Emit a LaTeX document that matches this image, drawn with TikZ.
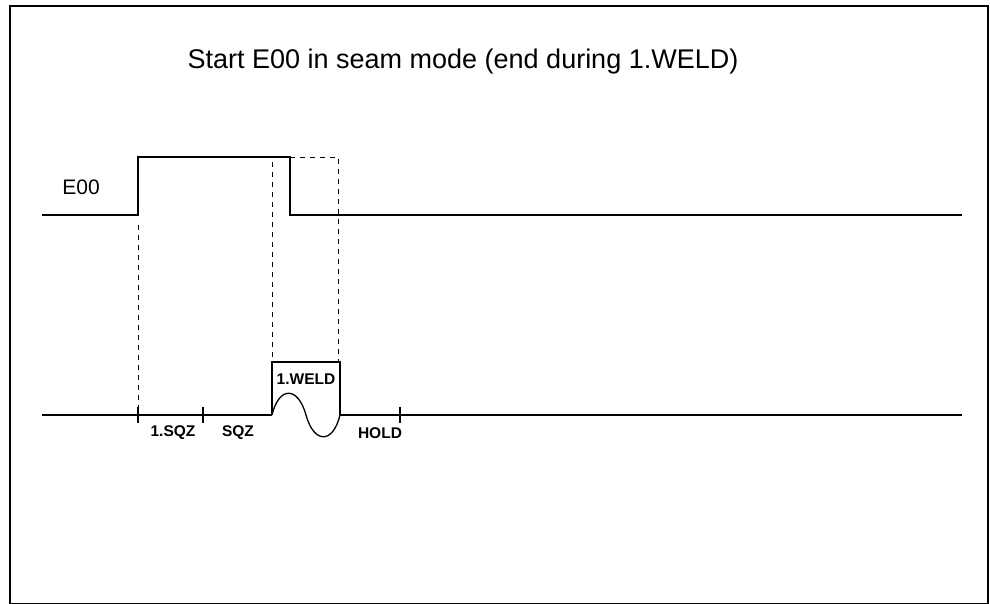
\documentclass[tikz,border=0pt]{standalone}
\usepackage{fontspec}
\setmainfont{Liberation Sans}
\begin{document}
\begin{tikzpicture}[x=1pt,y=-1pt,
  sig/.style={line width=1.3pt},
  guide/.style={line width=0.7pt,dash pattern=on 5pt off 5pt},
  lbl/.style={font=\bfseries\fontsize{15.5}{17}\selectfont,inner sep=0pt},
  frame/.style={line width=1.4pt}]
\useasboundingbox (0,0) rectangle (990,603);
\draw[frame] (10,6) rectangle (988,603.2);
\node[inner sep=0pt,font=\fontsize{27}{31}\selectfont] (title) at (463,62) {Start E00 in seam mode (end during 1.WELD)};
\node[inner sep=0pt,font=\fontsize{21}{24}\selectfont] (e00) at (81,187) {E00};
% E00 signal
\coordinate (s0) at (42,215);
\coordinate (s1) at (138,215);
\coordinate (s2) at (138,157);
\coordinate (s3) at (290,157);
\coordinate (s4) at (290,215);
\coordinate (s5) at (962,215);
\draw[sig] (s0) -- (s1) -- (s2) -- (s3) -- (s4) -- (s5);
% dashed extension
\coordinate (d1) at (338,157);
\coordinate (d2) at (338,362);
\draw[guide] (s3) -- (d1) -- (d2);
\coordinate (g1) at (138,225);
\coordinate (g2) at (138,415);
\draw[guide] (g1) -- (g2);
\coordinate (h1) at (272,162);
\coordinate (h2) at (272,362);
\draw[guide] (h1) -- (h2);
% time line
\coordinate (t0) at (42,415);
\coordinate (t1) at (272,415);
\coordinate (t2) at (340,415);
\coordinate (t3) at (962,415);
\draw[sig] (t0) -- (t1) (t2) -- (t3);
\draw[sig] (t1) -- (272,362) -- (340,362) -- (t2);
\draw[sig] (t1) .. controls (279,386) and (298,386) .. (306,415) .. controls (314,444) and (333,444) .. (t2);
% ticks
\foreach \x in {138,203,400} \draw[sig] (\x,407) -- (\x,423);
\node[lbl] (l1) at (173,433) {1.SQZ};
\node[lbl] (l2) at (238,433) {SQZ};
\node[lbl] (l3) at (380,433) {HOLD};
\node[lbl] (l4) at (306,379) {1.WELD};
\end{tikzpicture}
\end{document}
